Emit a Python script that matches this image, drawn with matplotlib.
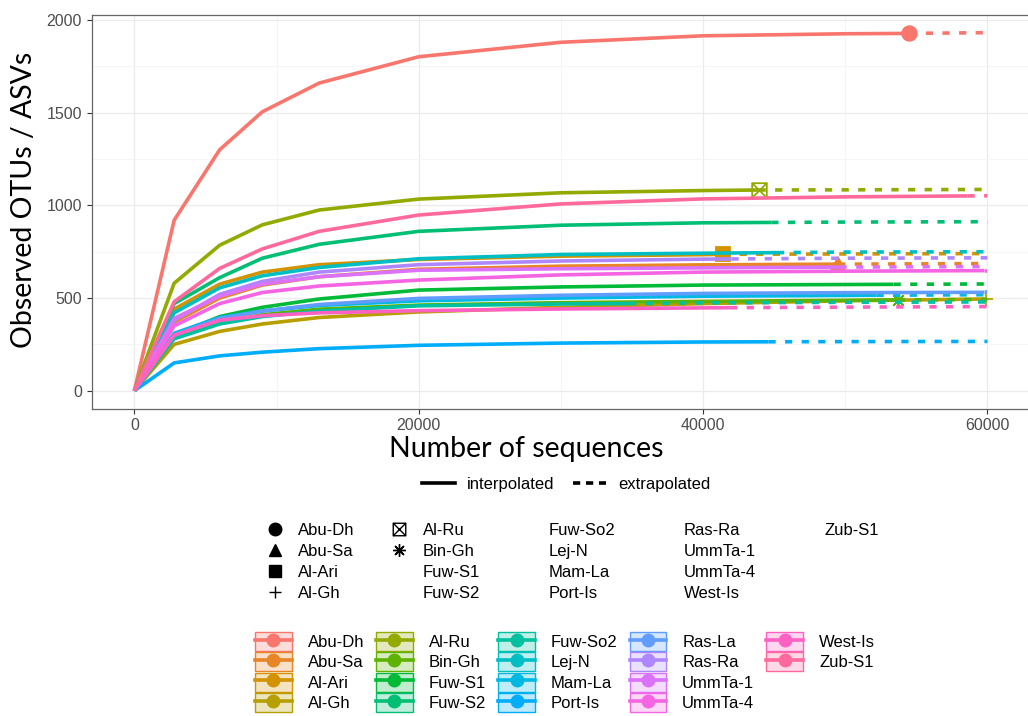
import numpy as np
import matplotlib
matplotlib.use("Agg")
import matplotlib.pyplot as plt
from matplotlib.lines import Line2D
from matplotlib.patches import Patch
from matplotlib.path import Path

###  Data
samples = ["Abu-Dh", "Abu-Sa", "Al-Ari", "Al-Gh", "Al-Ru", "Bin-Gh",
           "Fuw-S1", "Fuw-S2", "Fuw-So2", "Lej-N", "Mam-La", "Port-Is",
           "Ras-La", "Ras-Ra", "UmmTa-1", "UmmTa-4", "West-Is", "Zub-S1"]

# sampling depth and observed richness of each sample
n_seqs = [54500, 49500, 41400, 59900, 43900, 53700,
          53400, 44800, 34800, 45200, 52200, 44600,
          59800, 42000, 49600, 59800, 41900, 58600]
observed = [1928, 683, 736, 495, 1083, 490,
            574, 908, 470, 745, 515, 264,
            531, 711, 667, 648, 448, 1051]

# rarefied / extrapolated richness at these depths
depths = [0, 2800, 6000, 9000, 13000, 20000, 30000, 40000, 50000, 60000]
curves = [
    [0, 920, 1300, 1505, 1660, 1802, 1880, 1915, 1926, 1932],   # Abu-Dh
    [0, 370, 500, 570, 615, 655, 672, 679, 683, 686],           # Abu-Sa
    [0, 440, 575, 640, 680, 708, 726, 734, 738, 740],           # Al-Ari
    [0, 250, 320, 360, 395, 425, 450, 470, 485, 495],           # Al-Gh
    [0, 580, 785, 895, 975, 1034, 1068, 1080, 1084, 1086],      # Al-Ru
    [0, 290, 370, 410, 440, 462, 475, 482, 488, 492],           # Bin-Gh
    [0, 300, 400, 450, 495, 543, 560, 570, 573, 576],           # Fuw-S1
    [0, 470, 610, 715, 790, 860, 893, 906, 910, 912],           # Fuw-S2
    [0, 280, 360, 400, 430, 458, 468, 474, 477, 479],           # Fuw-So2
    [0, 420, 555, 620, 665, 712, 735, 742, 748, 750],           # Lej-N
    [0, 310, 395, 430, 460, 485, 500, 510, 514, 518],           # Mam-La
    [0, 150, 188, 208, 227, 245, 257, 263, 265, 266],           # Port-Is
    [0, 300, 390, 430, 465, 498, 515, 525, 529, 531],           # Ras-La
    [0, 380, 520, 590, 640, 680, 700, 710, 715, 717],           # Ras-Ra
    [0, 390, 510, 575, 615, 650, 658, 663, 667, 670],           # UmmTa-1
    [0, 350, 470, 530, 565, 597, 625, 640, 645, 648],           # UmmTa-4
    [0, 300, 380, 405, 420, 432, 441, 447, 451, 454],           # West-Is
    [0, 480, 660, 765, 860, 948, 1008, 1035, 1046, 1052],       # Zub-S1
]

x_ticks = [0, 20000, 40000, 60000]
y_ticks = [0, 500, 1000, 1500, 2000]


def hue_colour(h, c=100.0, l=65.0):
    # ggplot2 hue_pal: polar LUV -> sRGB
    h = np.deg2rad(h)
    u, v = c * np.cos(h), c * np.sin(h)
    Y = ((l + 16) / 116) ** 3
    un, vn = 0.1978398, 0.4683363
    up, vp = u / (13 * l) + un, v / (13 * l) + vn
    X = 9 * Y * up / (4 * vp)
    Z = Y * (12 - 3 * up - 20 * vp) / (4 * vp)
    M = np.array([[3.2404542, -1.5371385, -0.4985314],
                  [-0.9692660, 1.8760108, 0.0415560],
                  [0.0556434, -0.2040259, 1.0572252]])
    rgb = M @ np.array([X, Y, Z])
    rgb = np.where(rgb <= 0.0031308, 12.92 * rgb, 1.055 * np.abs(rgb) ** (1 / 2.4) - 0.055)
    return tuple(np.clip(rgb, 0, 1))


k = len(samples)
colours = [hue_colour(15 + 360.0 / k * i) for i in range(k)]

boxx = Path([(-1, -1), (1, -1), (1, 1), (-1, 1), (-1, -1), (1, 1), (-1, 1), (1, -1)],
            [Path.MOVETO, Path.LINETO, Path.LINETO, Path.LINETO, Path.LINETO,
             Path.LINETO, Path.MOVETO, Path.LINETO])
shapes = ["o", "^", "s", "+", boxx, (8, 2, 0)] + [None] * (k - 6)

fig = plt.figure(figsize=(10.28, 7.16), dpi=100)
ax = fig.add_axes([0.0892, 0.4293, 0.9128, 0.5502])

lw = 2.6
grid = np.array(depths)
for i, name in enumerate(samples):
    col = colours[i]
    c = np.array(curves[i])
    m = grid < n_seqs[i]
    xi = np.append(grid[m], n_seqs[i])
    yi = np.append(c[m], observed[i])
    xe = np.insert(grid[~m], 0, n_seqs[i])
    ye = np.insert(c[~m], 0, observed[i])
    ax.plot(xi, yi, color=col, lw=lw, solid_capstyle="butt", zorder=3)
    ax.plot(xe, ye, color=col, lw=lw, dashes=(2.0, 2.6), zorder=3)
    # observed points sit under the curves, as in ggiNEXT
    if shapes[i] is not None:
        filled = shapes[i] in ("o", "^", "s")
        ax.plot(n_seqs[i], observed[i], ls="none", marker=shapes[i], ms=10.5,
                color=col, mec=col, mfc=col if filled else "none", mew=1.3, zorder=2.5)

ax.set_xlim(-3000, 63000)
ax.set_ylim(-96.6, 2029)
ax.set_xticks(x_ticks)
ax.set_yticks(y_ticks)
ax.set_xticks([10000, 30000, 50000], minor=True)
ax.set_yticks([250, 750, 1250, 1750], minor=True)
ax.grid(which="major", color="#EBEBEB", lw=0.9, zorder=0)
ax.grid(which="minor", color="#F4F4F4", lw=0.6, zorder=0)
ax.tick_params(which="major", length=3.5, width=0.8, color="#333333",
               labelsize=11.5, labelcolor="#4D4D4D")
ax.tick_params(which="minor", length=0)
for s in ax.spines.values():
    s.set_color("#666666")
    s.set_linewidth(0.9)
for t in ax.get_xticklabels() + ax.get_yticklabels():
    t.set_family("Liberation Sans")

fig.text(24 / 1028, 1 - 200 / 716, "Observed OTUs / ASVs", rotation=90,
         ha="center", va="center", fontsize=20.5, family="Lato")
fig.text(526 / 1028, 1 - 449 / 716, "Number of sequences",
         ha="center", va="center", fontsize=20.5, family="Lato")

lfont = {"family": "Liberation Sans", "size": 12}

# method legend
h_method = [Line2D([], [], color="black", lw=2.6),
            Line2D([], [], color="black", lw=2.6, dashes=(2.0, 1.6))]
fig.legend(h_method, ["interpolated", "extrapolated"], loc="center",
           bbox_to_anchor=(566 / 1028, 1 - 484 / 716), ncol=2, frameon=False,
           prop=lfont, handlelength=2.0, handletextpad=0.72, columnspacing=1.1,
           borderpad=0)

# shape legend
shape_names = [s for s in samples if s != "Ras-La"]
h_shape, l_shape = [], []
for s in shape_names:
    mk = shapes[samples.index(s)]
    filled = mk in ("o", "^", "s")
    h_shape.append(Line2D([], [], ls="none", marker=mk if mk is not None else "",
                          ms=9, color="black", mfc="black" if filled else "none", mew=1.0))
    l_shape.append(s)
while len(h_shape) < 20:
    h_shape.append(Line2D([], [], ls="none"))
    l_shape.append("")
fig.legend(h_shape, l_shape, loc="center", bbox_to_anchor=(572 / 1028, 1 - 562 / 716),
           ncol=5, frameon=False, prop=lfont, handlelength=1.1, handletextpad=0.85,
           columnspacing=2.15, labelspacing=0.37, borderpad=0)

# colour legend
h_col, l_col = [], []
for i, s in enumerate(samples):
    box = Patch(facecolor=colours[i] + (0.25,), edgecolor=colours[i], lw=1.0)
    ln = Line2D([], [], color=colours[i], lw=2.6, marker="o", ms=9)
    h_col.append((box, ln))
    l_col.append(s)
while len(h_col) < 20:
    h_col.append(Line2D([], [], ls="none"))
    l_col.append("")
fig.legend(h_col, l_col, loc="center", bbox_to_anchor=(565 / 1028, 1 - 672 / 716),
           ncol=5, frameon=False, prop=lfont, handlelength=2.2, handleheight=1.35,
           handletextpad=0.96, columnspacing=0.72, labelspacing=0.1, borderpad=0)

fig.savefig("out.png", dpi=100, facecolor="white")
